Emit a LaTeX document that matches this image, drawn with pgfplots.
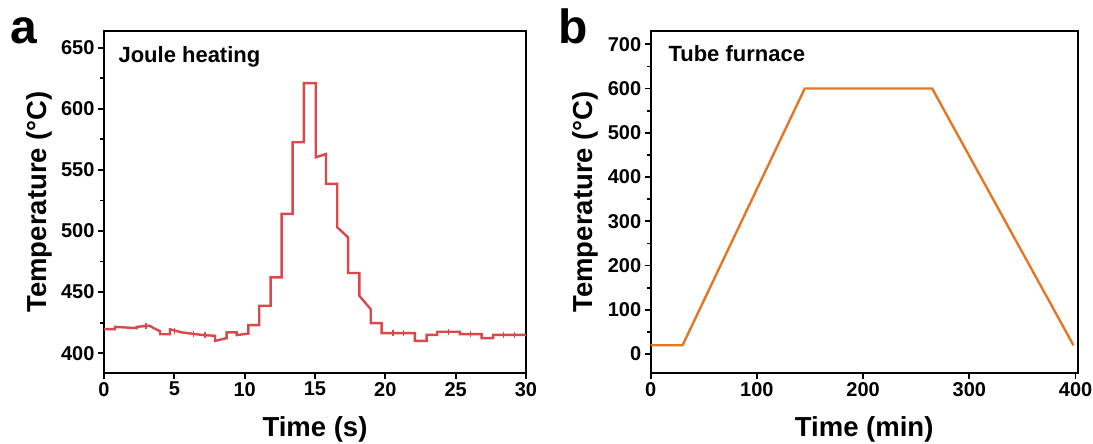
\documentclass[border=0pt]{standalone}
\usepackage{pgfplots}
\pgfplotsset{compat=1.18}
\usepackage{fontspec}
\setmainfont{Liberation Sans}
\definecolor{jred}{RGB}{217,72,74}
\definecolor{forange}{RGB}{226,120,38}
\begin{document}
\begin{tikzpicture}[x=1pt,y=1pt]
\path[use as bounding box] (0,0) rectangle (1093,444);
\pgfplotsset{
  myax/.style={
    scale only axis, anchor=south west, height=341.7pt,
    axis line style={line width=2.2pt},
    every tick/.style={line width=1.8pt, black},
    tick align=outside, major tick length=6pt, minor tick length=3.5pt,
    xtick pos=bottom, ytick pos=left,
    ticklabel style={font=\fontsize{20}{20}\selectfont\bfseries},
    /pgf/number format/assume math mode=true,
    label style={font=\fontsize{27.5}{28}\selectfont\bfseries},
    xlabel style={at={(axis description cs:0.5,-0.188)}, anchor=base},
    ylabel style={at={(axis description cs:-0.137,0.5)}, anchor=base},
  }
}
\begin{axis}[myax, at={(104pt,71.3pt)}, width=422pt,
  xmin=0, xmax=30, ymin=384, ymax=663.7,
  xtick={0,5,...,30}, ytick={400,450,...,650}, minor ytick={425,475,...,625},
  xlabel={Time (s)}, ylabel={Temperature (°C)}]
\addplot[jred, line width=2.4pt] coordinates {
(0,419.7) (0.78,419.7) (0.78,421.5) (2.32,420.5) (2.32,421.5) (3.22,422.5) (3.62,420) (3.98,418) (3.98,415.5) (4.69,415.5) (4.69,419.5) (5.52,417) (6.35,415.8) (7.06,414.8) (7.89,414.2) (7.89,410) (8.72,412.3) (8.72,417) (9.43,417) (9.43,414.8) (10.26,416) (10.26,423) (11.04,423) (11.04,438.8) (11.85,438.8) (11.85,462) (12.63,462) (12.63,514) (13.41,514) (13.41,572.6) (14.21,572.6) (14.21,621) (15.05,621) (15.05,560.3) (15.78,563) (15.78,538.5) (16.58,538.5) (16.58,503) (17.36,494.7) (17.36,465.6) (18.15,465.6) (18.15,447) (18.96,436) (18.96,424.6) (19.74,424.6) (19.74,416.4) (22.1,416.4) (22.1,410) (22.94,410) (22.94,415) (23.69,415) (23.69,417.5) (25.3,417.5) (25.3,415.6) (26.84,415.6) (26.84,412.3) (27.67,412.3) (27.67,415) (30,415)
};
\addplot[jred, only marks, mark=|, mark size=3pt, mark options={line width=1.5pt}] coordinates {
(3.0,422.3) (5.0,418.5) (6.35,415.8) (7.18,414.6) (20.56,416.4) (21.3,416.4) (24.5,417.5) (26.06,415.6) (28.4,415) (29.2,415)
};
\end{axis}
\begin{axis}[myax, at={(650.7pt,71.3pt)}, width=427pt,
  xmin=0, xmax=402, ymin=-42, ymax=730,
  xtick={0,100,...,400}, ytick={0,100,...,700}, minor ytick={50,150,...,650},
  xlabel={Time (min)}, ylabel={Temperature (°C)}]
\addplot[forange, line width=2.4pt] coordinates {
(0,20) (30,20) (145,600) (265,600) (398,20)
};
\end{axis}
\node[font=\fontsize{48}{48}\selectfont\bfseries, anchor=base] at (24,400.7) {a};
\node[font=\fontsize{48}{48}\selectfont\bfseries, anchor=base] at (573,400.7) {b};
\node[font=\fontsize{22}{22}\selectfont\bfseries, anchor=base west] at (115,381.3) {Joule heating};
\node[font=\fontsize{22}{22}\selectfont\bfseries, anchor=base west] at (665,382.3) {Tube furnace};
\end{tikzpicture}
\end{document}
